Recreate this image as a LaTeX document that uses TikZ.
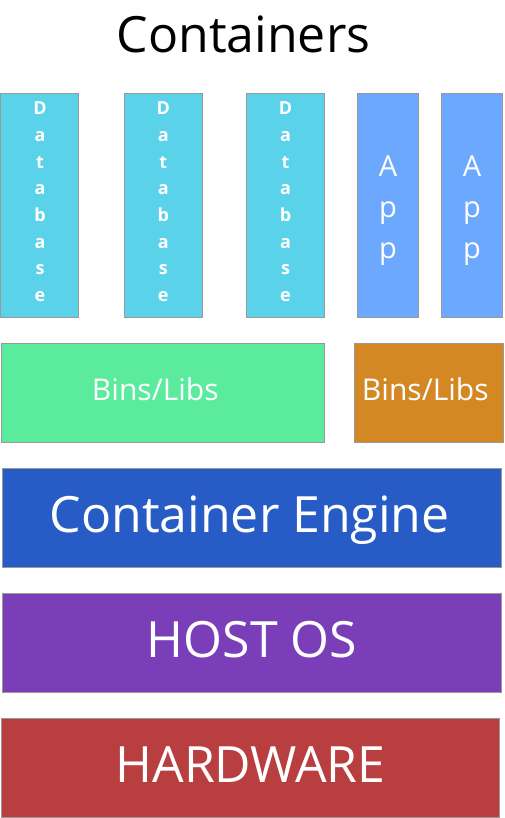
\documentclass[tikz,border=0pt]{standalone}
\usepackage{fontspec}
\setmainfont{Open Sans}
\definecolor{boxgray}{HTML}{999999}
\definecolor{dbcol}{HTML}{5AD2E9}
\definecolor{appcol}{HTML}{6CA8FE}
\definecolor{greencol}{HTML}{5AEC9C}
\definecolor{orangecol}{HTML}{D38824}
\definecolor{enginecol}{HTML}{275BC5}
\definecolor{hostcol}{HTML}{7A3FB8}
\definecolor{hwcol}{HTML}{B93E3F}
\begin{document}
\begin{tikzpicture}[x=1pt,y=-1pt,
  box/.style={draw=boxgray, line width=1pt, inner sep=0pt, outer sep=0pt, anchor=north west},
  lbl/.style={text=white, anchor=base, inner sep=0pt, outer sep=0pt},
  dbtext/.style={lbl, align=center, font=\fontsize{18}{26.7}\selectfont\bfseries},
  apptext/.style={lbl, align=center, font=\fontsize{29}{41.1}\selectfont},
  midtext/.style={lbl, font=\fontsize{30}{36}\selectfont},
  bigtext/.style={lbl, font=\fontsize{50}{60}\selectfont}]
\useasboundingbox (0,0) rectangle (504,818);
% title
\node[anchor=base, inner sep=0pt, font=\fontsize{50}{60}\selectfont] (title) at (243.5,52.7) {Containers};
% container columns
\node[box, fill=dbcol, minimum width=77.8pt, minimum height=224pt] (db1) at (0.5,93.3) {};
\node[box, fill=dbcol, minimum width=78.7pt, minimum height=224pt] (db2) at (124,93.3) {};
\node[box, fill=dbcol, minimum width=78.3pt, minimum height=224pt] (db3) at (246,93.3) {};
\node[box, fill=appcol, minimum width=61pt, minimum height=224pt] (app1) at (357.3,93.3) {};
\node[box, fill=appcol, minimum width=61.4pt, minimum height=224pt] (app2) at (441.3,93.3) {};
% base anchor of a multi-line node = baseline of its last line
\node[dbtext] (db1t) at (40,301.6) {D\\a\\t\\a\\b\\a\\s\\e};
\node[dbtext] (db2t) at (163.3,301.6) {D\\a\\t\\a\\b\\a\\s\\e};
\node[dbtext] (db3t) at (285.5,301.6) {D\\a\\t\\a\\b\\a\\s\\e};
\node[apptext] (app1t) at (388,258.2) {A\\p\\p};
\node[apptext] (app2t) at (472,258.2) {A\\p\\p};
% bins/libs
\node[box, fill=greencol, minimum width=323.4pt, minimum height=99pt] (bl1) at (1.3,343.3) {};
\node[box, fill=orangecol, minimum width=149.5pt, minimum height=99pt] (bl2) at (354,343.3) {};
\node[midtext] (bl1t) at (155.3,400.7) {Bins/Libs};
\node[midtext] (bl2t) at (425.3,400.7) {Bins/Libs};
% layers
\node[box, fill=enginecol, minimum width=499pt, minimum height=99pt] (engine) at (2.7,468.3) {};
\node[box, fill=hostcol, minimum width=499.4pt, minimum height=99pt] (host) at (2.3,593.3) {};
\node[box, fill=hwcol, minimum width=498.7pt, minimum height=99pt] (hw) at (1,718.3) {};
\node[bigtext] (enginet) at (249.7,532.7) {Container Engine};
\node[bigtext] (hostt) at (252,657.7) {HOST OS};
\node[bigtext] (hwt) at (250.5,782.7) {HARDWARE};
\end{tikzpicture}
\end{document}
